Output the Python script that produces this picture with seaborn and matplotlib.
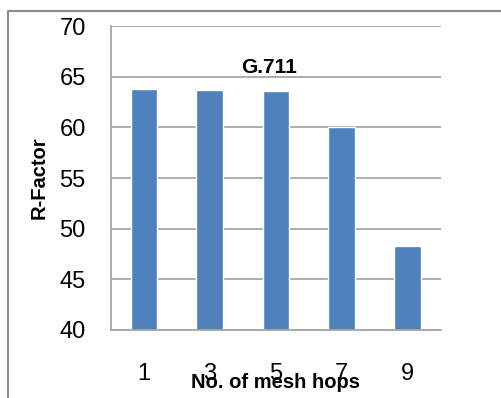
import matplotlib
matplotlib.use("Agg")
import matplotlib.pyplot as plt
from matplotlib.lines import Line2D
import seaborn as sns
import pandas as pd

hops = ["1", "3", "5", "7", "9"]
r_factor = [63.8, 63.7, 63.6, 60.0, 48.3]
y_ticks = [40, 45, 50, 55, 60, 65, 70]

sns.set_theme(style="white")
plt.rcParams["font.family"] = ["Liberation Sans", "DejaVu Sans"]

df = pd.DataFrame({"hops": hops, "r": r_factor})

fig = plt.figure(figsize=(5.02, 3.98), dpi=100)
ax = fig.add_axes([110.7 / 502, 68 / 398, 330 / 502, 304 / 398])

grid_c = "#a6a6a6"
ax.set_axisbelow(True)
ax.yaxis.grid(True, color=grid_c, linewidth=1.3)

sns.barplot(data=df, x="hops", y="r", color="#4f81bd", saturation=1,
            width=0.4, ax=ax, errorbar=None)

ax.set_ylim(40, 70)
ax.set_yticks(y_ticks)
ax.set_xlim(-0.5, len(hops) - 0.5)

# category boundary ticks on the x axis
ax.set_xticks([i - 0.5 for i in range(len(hops) + 1)], minor=False)
ax.set_xticklabels([""] * (len(hops) + 1))
ax.set_xticks(range(len(hops)), minor=True)
ax.set_xticklabels(hops, minor=True)
ax.tick_params(axis="x", which="major", length=8, width=1.3, color=grid_c, direction="out")
ax.tick_params(axis="x", which="minor", length=0, pad=24, labelsize=17, labelcolor="black")
ax.tick_params(axis="y", length=7, width=1.3, color=grid_c, direction="out",
               labelsize=17, labelcolor="black", pad=11)

for side in ["top", "right"]:
    ax.spines[side].set_visible(False)
for side in ["left", "bottom"]:
    ax.spines[side].set_color(grid_c)
    ax.spines[side].set_linewidth(1.3)

ax.set_xlabel("No. of mesh hops", fontsize=14.5, fontweight="bold", labelpad=-9,
              color="black")
ax.set_ylabel("R-Factor", fontsize=14.5, fontweight="bold", labelpad=8, color="black")
ax.text(0.48, 0.865, "G.711", transform=ax.transAxes, ha="center", va="center",
        fontsize=15, fontweight="bold", color="black")

# outer chart frame
fig.add_artist(Line2D([8.5 / 502, 8.5 / 502, 1.0], [0.0, 1 - 11 / 398, 1 - 11 / 398],
                      transform=fig.transFigure, color="#8c8c8c", linewidth=1.5))

fig.savefig("out.png", dpi=100)
